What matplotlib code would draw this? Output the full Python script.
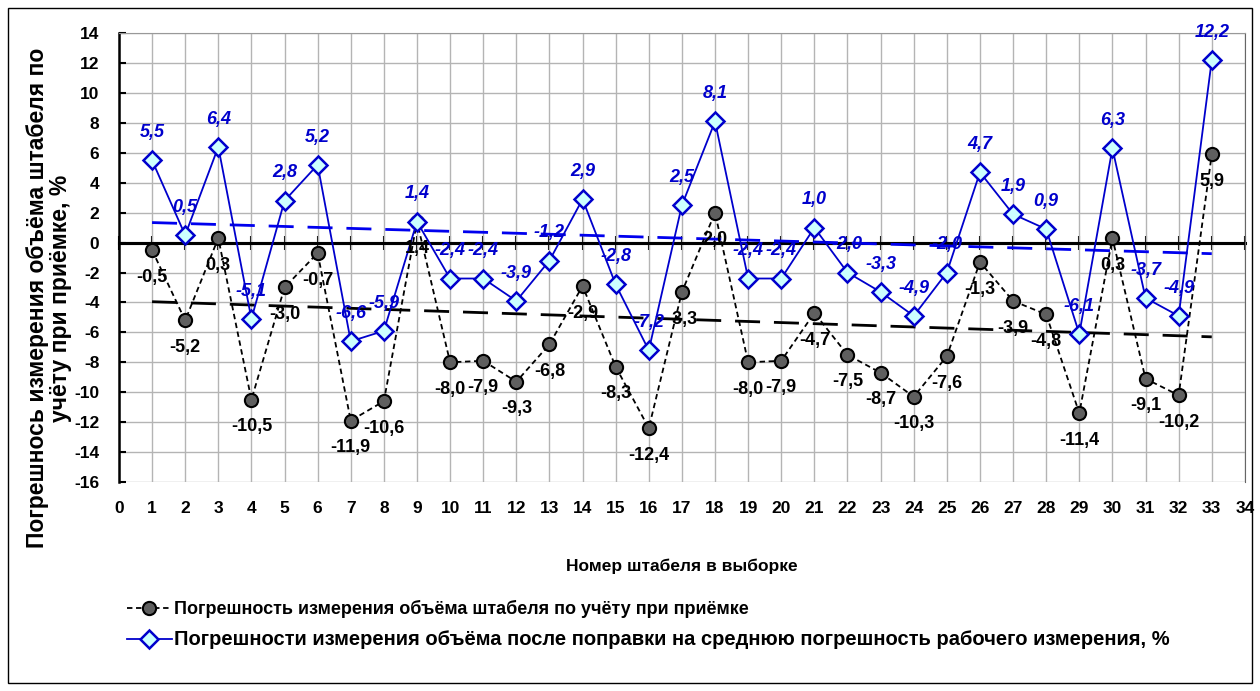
import numpy as np
import matplotlib.pyplot as plt
from matplotlib.patches import Rectangle

plt.rcParams['font.family'] = ['Liberation Sans', 'DejaVu Sans']
plt.rcParams['font.weight'] = 'bold'
plt.rcParams['axes.unicode_minus'] = False

# номера штабелей
stacks = list(range(1, 34))
# погрешность по учёту при приёмке, %
err_accept = [-0.5, -5.2, 0.3, -10.5, -3.0, -0.7, -11.9, -10.6, 1.4, -8.0, -7.9,
              -9.3, -6.8, -2.9, -8.3, -12.4, -3.3, 2.0, -8.0, -7.9, -4.7, -7.5,
              -8.7, -10.3, -7.6, -1.3, -3.9, -4.8, -11.4, 0.3, -9.1, -10.2, 5.9]
# погрешность после поправки, %
err_corr = [5.5, 0.5, 6.4, -5.1, 2.8, 5.2, -6.6, -5.9, 1.4, -2.4, -2.4,
            -3.9, -1.2, 2.9, -2.8, -7.2, 2.5, 8.1, -2.4, -2.4, 1.0, -2.0,
            -3.3, -4.9, -2.0, 4.7, 1.9, 0.9, -6.1, 6.3, -3.7, -4.9, 12.2]
# линии тренда (концы, как на исходном графике)
trend_x = [1, 33]
trend_accept = [-3.95, -6.3]
trend_corr = [1.34, -0.74]

fig = plt.figure(figsize=(12.6, 6.91), dpi=100)
ax = fig.add_axes([0.0944, 0.3025, 0.8936, 0.6495])

ax.plot(trend_x, trend_accept, color='black', lw=2, dashes=(9, 5), zorder=3)
ax.plot(trend_x, trend_corr, color='#0000ee', lw=2, dashes=(9, 5), zorder=3)

ax.axhline(0, color='black', lw=2.2, zorder=2)

ax.plot(stacks, err_accept, '--', color='black', lw=1.3, dashes=(3, 2), marker='o',
        ms=9.5, mfc='#5f5f5f', mec='black', mew=1.5, zorder=4,
        label='Погрешность измерения объёма штабеля по учёту при приёмке')
ax.plot(stacks, err_corr, '-', color='#0000cc', lw=1.3, marker='D', ms=9.5,
        mfc='#ccffff', mec='#0000cc', mew=1.8, zorder=5,
        label='Погрешности измерения объёма после поправки на среднюю погрешность рабочего измерения, %')

for xi, v in zip(stacks, err_accept):
    ax.annotate(f'{v:.1f}'.replace('.', ','), (xi, v), xytext=(0, -19.5),
                textcoords='offset points', ha='center', va='center',
                fontsize=13, fontweight='bold', color='black', zorder=6)
for xi, v in zip(stacks, err_corr):
    ax.annotate(f'{v:.1f}'.replace('.', ','), (xi, v), xytext=(0, 20),
                textcoords='offset points', ha='center', va='center',
                fontsize=13, fontweight='bold', fontstyle='italic',
                color='#0000cc', zorder=6)

ax.set_xlim(0, 34)
ax.set_ylim(-16, 14)
ax.set_xticks(range(0, 35))
ax.set_yticks(range(-16, 15, 2))
ax.grid(color='#b4b4b4', lw=1)
ax.set_axisbelow(True)
ax.tick_params(axis='x', length=0, labelsize=12.5, pad=14)
ax.tick_params(axis='y', direction='in', length=5, width=1.5, labelsize=12.5, pad=14)
ax.spines['bottom'].set_visible(False)
ax.spines['top'].set_color('#999999')
ax.spines['right'].set_color('#666666')
ax.spines['left'].set_linewidth(1.8)

# ось X по нулю с засечками
sec = ax.secondary_xaxis(0, transform=ax.transData)
sec.set_xticks(range(0, 35))
sec.tick_params(direction='inout', length=10, width=1.5, labelbottom=False)
sec.spines['bottom'].set_linewidth(2.2)

ax.set_xlabel('Номер штабеля в выборке', fontsize=12.5, fontweight='bold', labelpad=30)
ax.set_ylabel('Погрешнось измерения объёма штабеля по\nучёту при приёмке, %',
              fontsize=16.5, fontweight='bold', linespacing=1.0)
ax.yaxis.set_label_coords(-0.042, 0.41)

leg = fig.legend(loc='upper left', bbox_to_anchor=(0.095, 0.142), frameon=False,
                 fontsize=13, handlelength=2.5, handletextpad=0.1, labelspacing=0.65,
                 borderaxespad=0)
leg.get_texts()[1].set_fontsize(14.5)

fig.patches.append(Rectangle((0.006, 0.012), 0.988, 0.976, transform=fig.transFigure,
                             fill=False, edgecolor='black', lw=1))

plt.savefig('out.png', dpi=100)
